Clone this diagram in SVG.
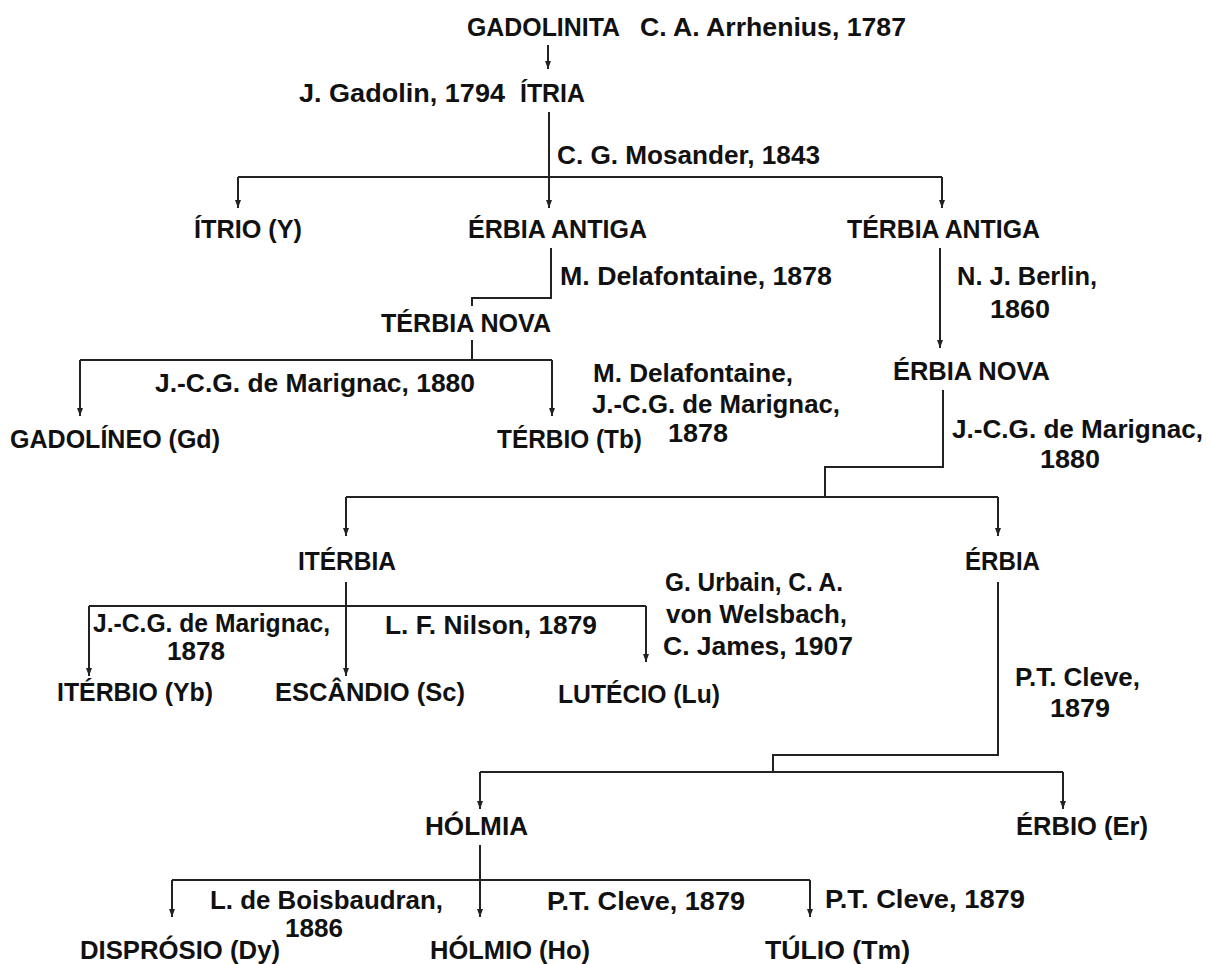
<svg xmlns="http://www.w3.org/2000/svg" width="1210" height="964" viewBox="0 0 1210 964">
<style>
text{font-family:"Liberation Sans",Arial,sans-serif;font-weight:bold;font-size:26px;fill:#111}
.c{fill:none;stroke:#222;stroke-width:2}
</style>
<defs>
<marker id="ah" viewBox="0 0 8 6" refX="8" refY="3" markerWidth="8" markerHeight="6" markerUnits="userSpaceOnUse" orient="auto">
<path d="M0,0 L8,3 L0,6 Z" fill="#222"/>
</marker>
</defs>
<rect width="1210" height="964" fill="#fff"/>
<g id="connectors">
<path class="c" d="M548,45 V69" marker-end="url(#ah)"/>
<path class="c" d="M549,112 V177"/>
<path class="c" d="M238,177 H942"/>
<path class="c" d="M238,177 V208" marker-end="url(#ah)"/>
<path class="c" d="M549,177 V208" marker-end="url(#ah)"/>
<path class="c" d="M942,177 V208" marker-end="url(#ah)"/>
<path class="c" d="M551,248 V298 H472 V306"/>
<path class="c" d="M472,340 V360"/>
<path class="c" d="M80,360 H552"/>
<path class="c" d="M80,360 V416" marker-end="url(#ah)"/>
<path class="c" d="M552,360 V416" marker-end="url(#ah)"/>
<path class="c" d="M940,248 V348" marker-end="url(#ah)"/>
<path class="c" d="M943,390 V467 H825 V497"/>
<path class="c" d="M346,497 H998"/>
<path class="c" d="M346,497 V536" marker-end="url(#ah)"/>
<path class="c" d="M998,497 V536" marker-end="url(#ah)"/>
<path class="c" d="M346,582 V606"/>
<path class="c" d="M89,606 H646"/>
<path class="c" d="M89,606 V676" marker-end="url(#ah)"/>
<path class="c" d="M346,606 V676" marker-end="url(#ah)"/>
<path class="c" d="M646,606 V662" marker-end="url(#ah)"/>
<path class="c" d="M998,582 V755 H773 V772"/>
<path class="c" d="M480,772 H1063"/>
<path class="c" d="M480,772 V809" marker-end="url(#ah)"/>
<path class="c" d="M1063,772 V809" marker-end="url(#ah)"/>
<path class="c" d="M480,845 V880"/>
<path class="c" d="M172,880 H810"/>
<path class="c" d="M172,880 V917" marker-end="url(#ah)"/>
<path class="c" d="M480,880 V917" marker-end="url(#ah)"/>
<path class="c" d="M810,880 V917" marker-end="url(#ah)"/>
</g>
<g id="nodes">
<g id="gadolinita"><text x="467" y="36" textLength="153" lengthAdjust="spacingAndGlyphs">GADOLINITA</text></g>
<g id="l-arrhenius"><text x="640" y="36" textLength="266" lengthAdjust="spacingAndGlyphs">C. A. Arrhenius, 1787</text></g>
<g id="l-gadolin"><text x="299" y="102" textLength="206" lengthAdjust="spacingAndGlyphs">J. Gadolin, 1794</text></g>
<g id="itria"><text x="520" y="102" textLength="65" lengthAdjust="spacingAndGlyphs">ÍTRIA</text></g>
<g id="l-mosander"><text x="557" y="164" textLength="263" lengthAdjust="spacingAndGlyphs">C. G. Mosander, 1843</text></g>
<g id="itrio"><text x="194" y="238" textLength="108" lengthAdjust="spacingAndGlyphs">ÍTRIO (Y)</text></g>
<g id="erbia-antiga"><text x="468" y="238" textLength="179" lengthAdjust="spacingAndGlyphs">ÉRBIA ANTIGA</text></g>
<g id="terbia-antiga"><text x="847" y="238" textLength="193" lengthAdjust="spacingAndGlyphs">TÉRBIA ANTIGA</text></g>
<g id="l-delafontaine"><text x="560" y="285" textLength="272" lengthAdjust="spacingAndGlyphs">M. Delafontaine, 1878</text></g>
<g id="l-berlin"><text x="957" y="285" textLength="140" lengthAdjust="spacingAndGlyphs">N. J. Berlin,</text><text x="990" y="318" textLength="60" lengthAdjust="spacingAndGlyphs">1860</text></g>
<g id="terbia-nova"><text x="381" y="332" textLength="170" lengthAdjust="spacingAndGlyphs">TÉRBIA NOVA</text></g>
<g id="erbia-nova"><text x="893" y="380" textLength="157" lengthAdjust="spacingAndGlyphs">ÉRBIA NOVA</text></g>
<g id="l-marignac1880a"><text x="155" y="392" textLength="320" lengthAdjust="spacingAndGlyphs">J.-C.G. de Marignac, 1880</text></g>
<g id="l-delamar"><text x="593" y="382" textLength="200" lengthAdjust="spacingAndGlyphs">M. Delafontaine,</text><text x="592" y="413" textLength="248" lengthAdjust="spacingAndGlyphs">J.-C.G. de Marignac,</text><text x="668" y="442" textLength="60" lengthAdjust="spacingAndGlyphs">1878</text></g>
<g id="gadolineo"><text x="10" y="448" textLength="210" lengthAdjust="spacingAndGlyphs">GADOLÍNEO (Gd)</text></g>
<g id="terbio"><text x="497" y="448" textLength="145" lengthAdjust="spacingAndGlyphs">TÉRBIO (Tb)</text></g>
<g id="l-marignac1880b"><text x="952" y="438" textLength="251" lengthAdjust="spacingAndGlyphs">J.-C.G. de Marignac,</text><text x="1040" y="468" textLength="60" lengthAdjust="spacingAndGlyphs">1880</text></g>
<g id="iterbia"><text x="298" y="570" textLength="98" lengthAdjust="spacingAndGlyphs">ITÉRBIA</text></g>
<g id="erbia"><text x="965" y="570" textLength="75" lengthAdjust="spacingAndGlyphs">ÉRBIA</text></g>
<g id="l-urbain"><text x="665" y="591" textLength="178" lengthAdjust="spacingAndGlyphs">G. Urbain, C. A.</text><text x="666" y="623" textLength="181" lengthAdjust="spacingAndGlyphs">von Welsbach,</text><text x="663" y="655" textLength="190" lengthAdjust="spacingAndGlyphs">C. James, 1907</text></g>
<g id="l-marignac1878"><text x="93" y="632" textLength="237" lengthAdjust="spacingAndGlyphs">J.-C.G. de Marignac,</text><text x="167" y="660" textLength="58" lengthAdjust="spacingAndGlyphs">1878</text></g>
<g id="l-nilson"><text x="385" y="634" textLength="212" lengthAdjust="spacingAndGlyphs">L. F. Nilson, 1879</text></g>
<g id="l-cleve1"><text x="1015" y="686" textLength="125" lengthAdjust="spacingAndGlyphs">P.T. Cleve,</text><text x="1050" y="717" textLength="60" lengthAdjust="spacingAndGlyphs">1879</text></g>
<g id="iterbio"><text x="57" y="701" textLength="156" lengthAdjust="spacingAndGlyphs">ITÉRBIO (Yb)</text></g>
<g id="escandio"><text x="275" y="701" textLength="190" lengthAdjust="spacingAndGlyphs">ESCÂNDIO (Sc)</text></g>
<g id="lutecio"><text x="558" y="703" textLength="162" lengthAdjust="spacingAndGlyphs">LUTÉCIO (Lu)</text></g>
<g id="holmia"><text x="425" y="835" textLength="103" lengthAdjust="spacingAndGlyphs">HÓLMIA</text></g>
<g id="erbio"><text x="1016" y="835" textLength="132" lengthAdjust="spacingAndGlyphs">ÉRBIO (Er)</text></g>
<g id="l-boisbaudran"><text x="210" y="909" textLength="233" lengthAdjust="spacingAndGlyphs">L. de Boisbaudran,</text><text x="285" y="937" textLength="58" lengthAdjust="spacingAndGlyphs">1886</text></g>
<g id="l-cleve2"><text x="547" y="910" textLength="198" lengthAdjust="spacingAndGlyphs">P.T. Cleve, 1879</text></g>
<g id="l-cleve3"><text x="825" y="908" textLength="200" lengthAdjust="spacingAndGlyphs">P.T. Cleve, 1879</text></g>
<g id="disprosio"><text x="80" y="959" textLength="200" lengthAdjust="spacingAndGlyphs">DISPRÓSIO (Dy)</text></g>
<g id="holmio"><text x="430" y="959" textLength="160" lengthAdjust="spacingAndGlyphs">HÓLMIO (Ho)</text></g>
<g id="tulio"><text x="765" y="959" textLength="145" lengthAdjust="spacingAndGlyphs">TÚLIO (Tm)</text></g>
</g>
</svg>
